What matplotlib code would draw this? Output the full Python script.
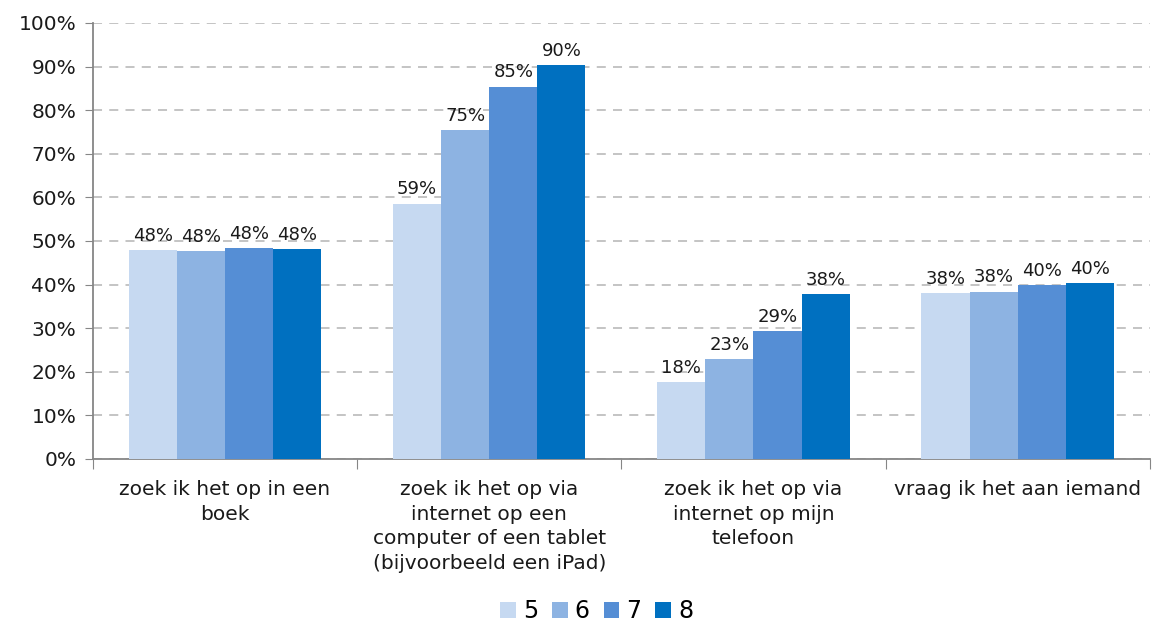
import numpy as np
import matplotlib
matplotlib.use('Agg')
import matplotlib.pyplot as plt
from matplotlib.ticker import PercentFormatter

categories = ['zoek ik het op in een\nboek',
              'zoek ik het op via\ninternet op een\ncomputer of een tablet\n(bijvoorbeeld een iPad)',
              'zoek ik het op via\ninternet op mijn\ntelefoon',
              'vraag ik het aan iemand']
series = ['5', '6', '7', '8']
vals_5 = [47.9, 58.6, 17.6, 38.1]
vals_6 = [47.7, 75.4, 22.9, 38.4]
vals_7 = [48.3, 85.4, 29.4, 39.8]
vals_8 = [48.1, 90.3, 37.9, 40.3]
colors = ['#C6D9F1', '#8DB3E2', '#558ED5', '#0070C0']

plt.rcParams['font.family'] = ['DejaVu Sans']

fig = plt.figure(figsize=(11.52, 6.25), dpi=100)
ax = fig.add_axes([0.0807, 0.2656, 0.9173, 0.6976])

x = np.arange(len(categories))
w = 0.182
allvals = [vals_5, vals_6, vals_7, vals_8]
for i, (name, v) in enumerate(zip(series, allvals)):
    pos = x + (i - 1.5) * w
    bars = ax.bar(pos, v, width=w, color=colors[i], label=name, zorder=3)
    for b, val in zip(bars, v):
        ax.text(b.get_x() + b.get_width() / 2, val + 1.2, '%d%%' % round(val),
                ha='center', va='bottom', fontsize=13, color='#1a1a1a')

ax.set_xlim(-0.5, len(categories) - 0.5)
ax.set_ylim(0, 100)
ax.set_yticks(np.arange(0, 101, 10))
ax.yaxis.set_major_formatter(PercentFormatter(decimals=0))
ax.tick_params(axis='y', labelsize=14.5, colors='#868686', labelcolor='#1a1a1a',
               length=6, direction='out', pad=6)

# category labels between boundary ticks
ax.set_xticks(np.arange(-0.5, len(categories), 1))
ax.set_xticklabels([])
ax.set_xticks(x, minor=True)
ax.set_xticklabels(categories, minor=True, fontsize=14.5, color='#1a1a1a',
                   linespacing=1.38, va='top')
ax.tick_params(axis='x', which='major', length=7, colors='#868686')
ax.tick_params(axis='x', which='minor', length=0, pad=15)

ax.grid(axis='y', linestyle=(0, (5, 4)), color='#BFBFBF', linewidth=1.3, zorder=0)
for s in ['top', 'right']:
    ax.spines[s].set_visible(False)
for s in ['left', 'bottom']:
    ax.spines[s].set_color('#868686')
    ax.spines[s].set_linewidth(1.3)

fig.legend(loc='center', bbox_to_anchor=(0.518, 0.022), ncol=4, frameon=False,
           fontsize=17, handlelength=0.65, handleheight=0.65, handletextpad=0.3,
           columnspacing=0.6)

fig.savefig('out.png', dpi=100)
